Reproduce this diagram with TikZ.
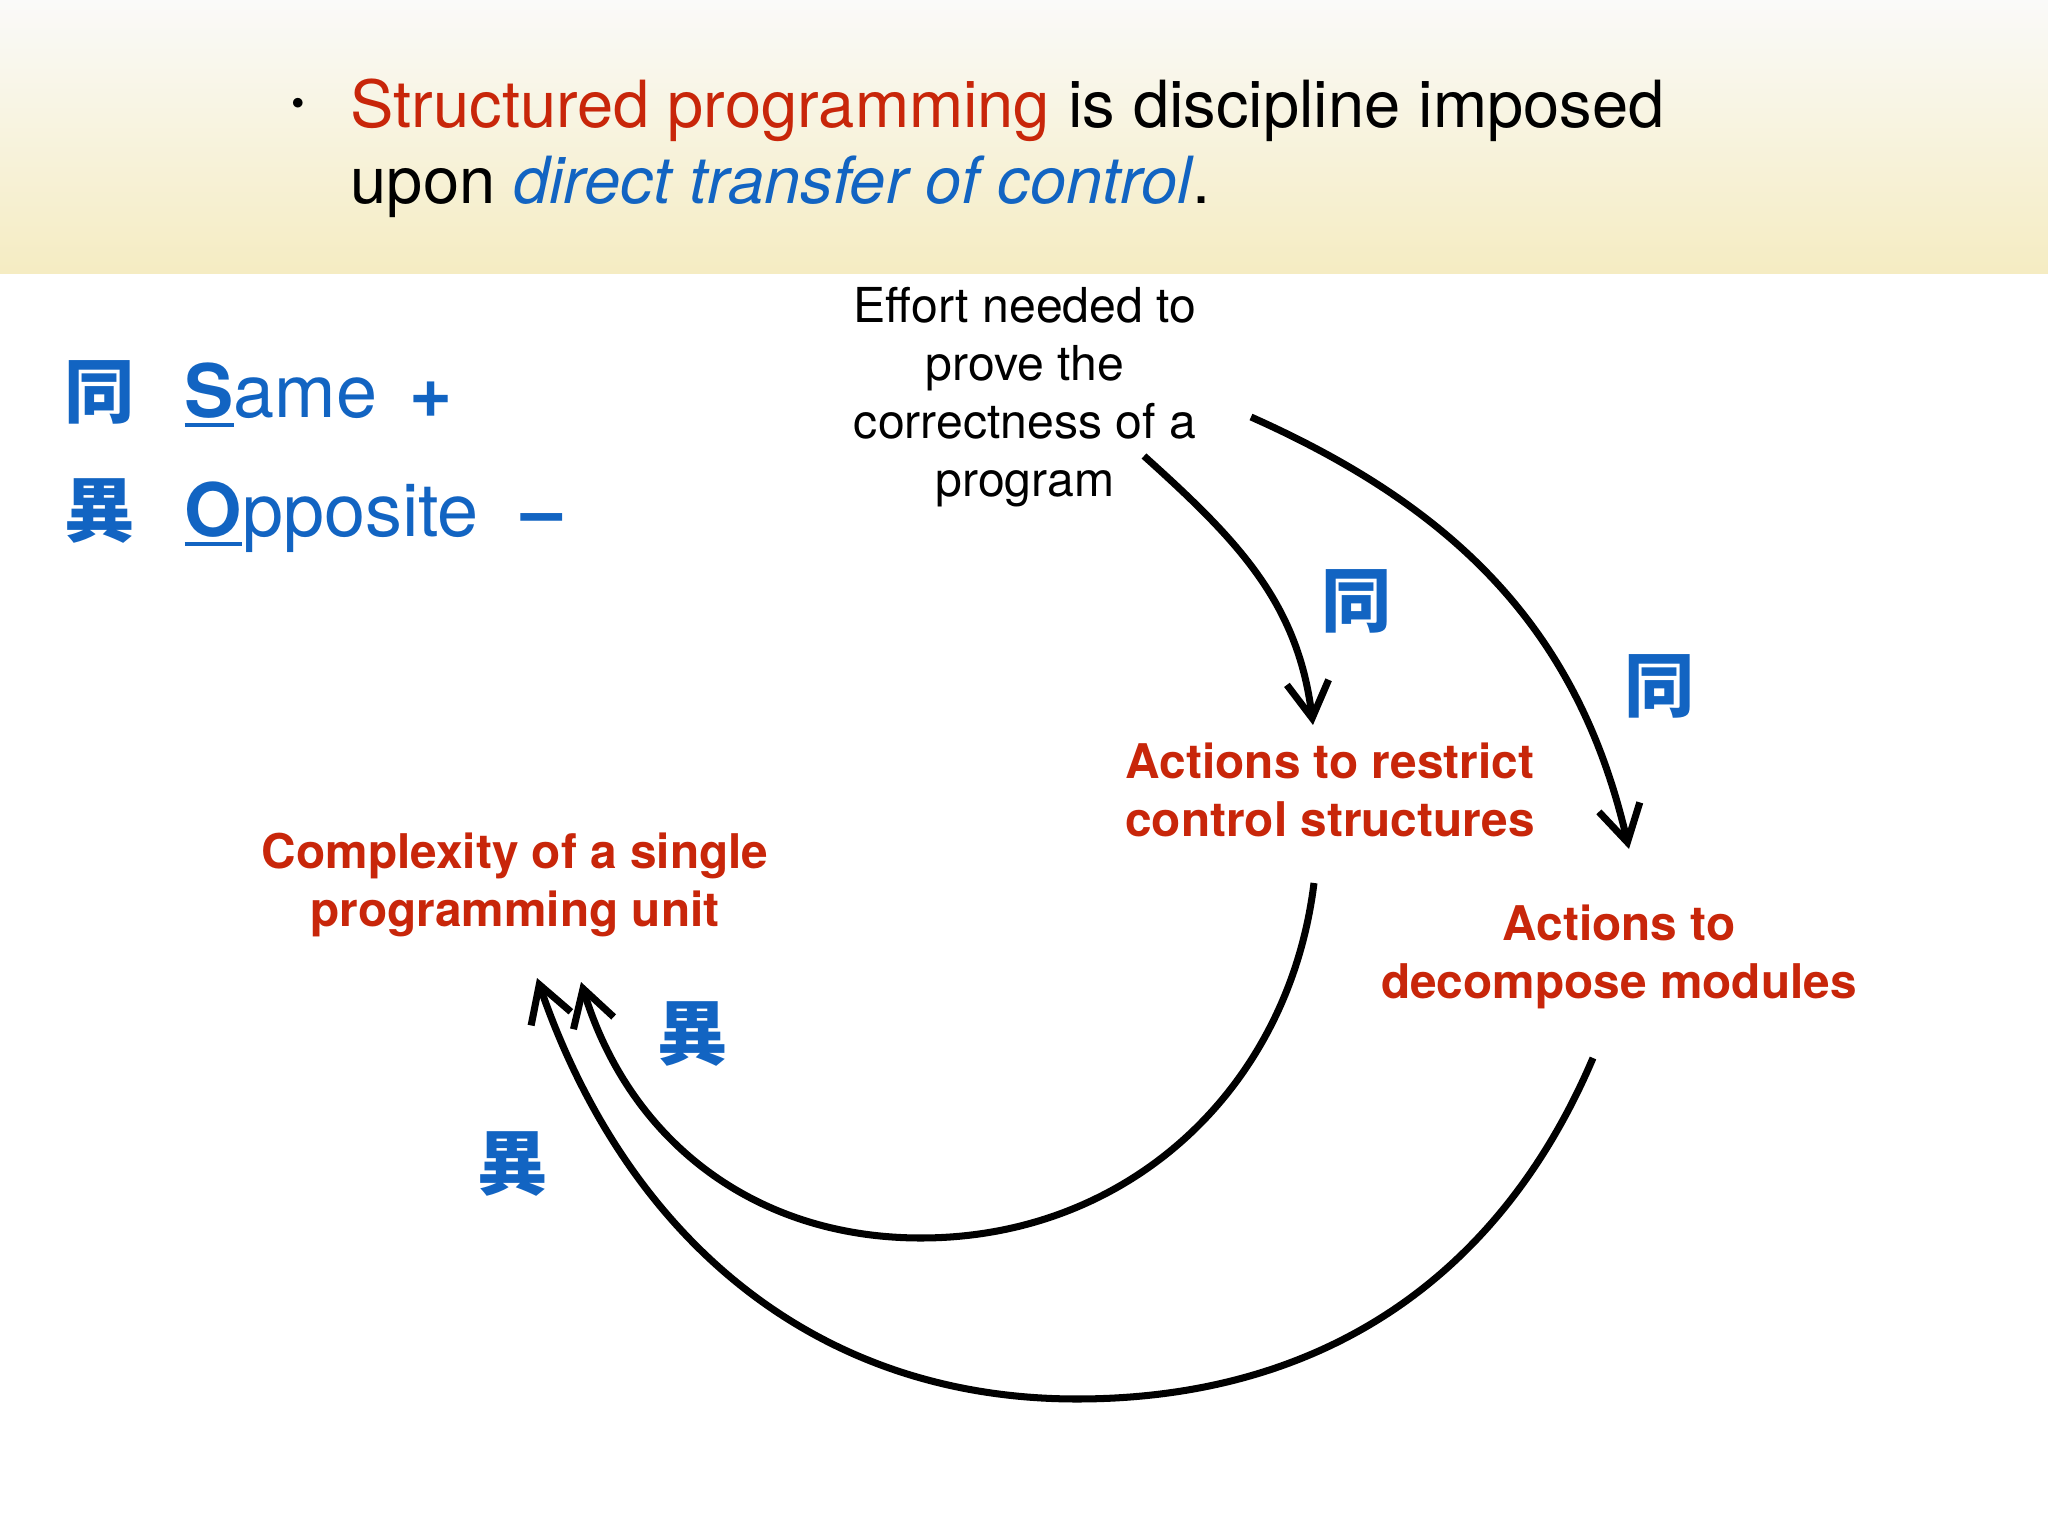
\documentclass[tikz,border=0pt]{standalone}
\usepackage{fontspec}
\setmainfont{TeX Gyre Heros}
\newfontfamily\cjk{Noto Sans CJK JP}
\usetikzlibrary{arrows.meta}

\definecolor{slidered}{RGB}{200,38,10}
\definecolor{slideblue}{RGB}{18,100,194}
\definecolor{bandtop}{RGB}{250,250,249}
\definecolor{bandbottom}{RGB}{245,236,194}

% bold first letter with a heavy underline
\newcommand{\keyletter}[1]{\sbox0{\bfseries #1}\rlap{\rule[-0.12em]{\wd0}{0.05em}}\usebox0}

\begin{document}
\begin{tikzpicture}[
    head/.style={inner sep=0pt, font=\fontsize{18.5}{22}\selectfont},
    legend/.style={inner sep=0pt, text=slideblue, font=\fontsize{21}{25}\selectfont},
    kanji/.style={inner sep=0pt, text=slideblue, font=\fontsize{20}{24}\cjk\bfseries},
    effort/.style={inner sep=0pt, align=center, font=\fontsize{13.7}{16.5}\selectfont},
    factor/.style={inner sep=0pt, align=center, text=slidered, font=\fontsize{13.6}{16.4}\selectfont\bfseries},
    arr/.style={line width=2pt, -{Straight Barb[length=3.6mm,width=4.2mm]}}
]
    \useasboundingbox (0,0) rectangle (20.48,-15.36);
    \fill[white] (0,0) rectangle (20.48,-15.36);

    % Header band
    \shade[top color=bandtop, bottom color=bandbottom] (0,0) rectangle (20.48,-2.74);
    \node[font=\fontsize{11}{11}\selectfont, inner sep=0pt] (bullet) at (2.98,-1.07) {\textbullet};
    \node[head, anchor=base west] (line1) at (3.50,-1.28)
        {\textcolor{slidered}{Structured programming} is discipline imposed};
    \node[head, anchor=base west] (line2) at (3.50,-2.04)
        {upon \textcolor{slideblue}{\itshape direct transfer of control}.};

    % Legend
    \node[kanji] (samekanji) at (1.00,-3.92) {同};
    \node[legend, anchor=base west] (sametext) at (1.84,-4.18) {\keyletter{S}ame};
    \node[legend, anchor=base] (plus) at (4.31,-4.18) {\textbf{+}};
    \node[kanji] (oppkanji) at (1.00,-5.11) {異};
    \node[legend, anchor=base west] (opptext) at (1.84,-5.37) {\keyletter{O}pposite};
    \node[legend, anchor=base] (minus) at (5.42,-5.37) {\textbf{–}};

    % Factors
    \node[effort] (effort) at (10.25,-3.97) {Effort needed to\\prove the\\correctness of a\\program};
    \node[factor] (restrict) at (13.30,-7.90) {Actions to restrict\\control structures};
    \node[factor] (decompose) at (16.19,-9.57) {Actions to\\decompose modules};
    \node[factor] (complexity) at (5.15,-8.85) {Complexity of a single\\programming unit};

    % Relation marks
    \node[kanji] (same1) at (13.57,-6.01) {同};
    \node[kanji] (same2) at (16.60,-6.86) {同};
    \node[kanji] (opp1) at (6.93,-10.34) {異};
    \node[kanji] (opp2) at (5.13,-11.64) {異};

    % Arrow ends
    \coordinate (effortA) at (11.44,-4.56);
    \coordinate (effortB) at (12.51,-4.17);
    \coordinate (restrictTop) at (13.13,-7.25);
    \coordinate (decomposeTop) at (16.29,-8.49);
    \coordinate (restrictBottom) at (13.14,-8.83);
    \coordinate (decomposeBottom) at (15.93,-10.58);
    \coordinate (complexityA) at (5.81,-9.82);
    \coordinate (complexityB) at (5.37,-9.78);

    % Arrows
    \draw[arr] (effortA) to[out=-42,in=97] (restrictTop);
    \draw[arr] (effortB) to[out=-24,in=103] (decomposeTop);
    \draw[arr] (restrictBottom) to[out=-97,in=0] (9.21,-12.38) to[out=180,in=-73] (complexityA);
    \draw[arr] (decomposeBottom) to[out=-113,in=0] (10.77,-13.99) to[out=180,in=-71] (complexityB);
\end{tikzpicture}
\end{document}
